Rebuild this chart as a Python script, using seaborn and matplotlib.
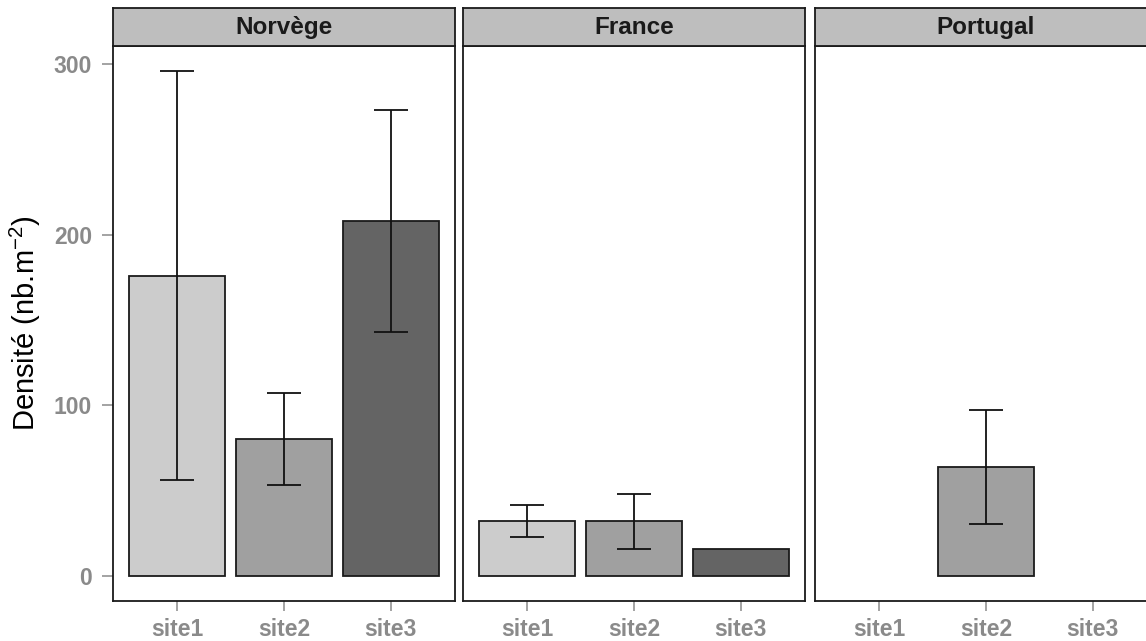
import numpy as np
import pandas as pd
import matplotlib
matplotlib.use("Agg")
import matplotlib.pyplot as plt
import seaborn as sns

# Mean density per site and country, with standard errors
countries = ["Norvège", "France", "Portugal"]
sites = ["site1", "site2", "site3"]
density_norvege = [176, 80, 208]
density_france = [32, 32, 15.5]
density_portugal = [np.nan, 64, np.nan]
se_norvege = [120, 27, 65]
se_france = [9.5, 16, np.nan]
se_portugal = [np.nan, 33.5, np.nan]
y_ticks = [0, 100, 200, 300]

fill_colors = {"site1": "#CCCCCC", "site2": "#A0A0A0", "site3": "#646464"}

df = pd.DataFrame({
    "pays": np.repeat(countries, len(sites)),
    "site": sites * len(countries),
    "densite": density_norvege + density_france + density_portugal,
    "se": se_norvege + se_france + se_portugal,
})

sns.set_theme(style="white")
plt.rcParams["font.family"] = ["Liberation Sans", "DejaVu Sans"]
plt.rcParams["mathtext.fontset"] = "custom"
plt.rcParams["mathtext.rm"] = "Liberation Sans"
plt.rcParams["mathtext.it"] = "Liberation Sans:italic"

W, H = 1146, 641
fig = plt.figure(figsize=(W / 100, H / 100), dpi=100)

panel_left = [113, 463, 815]
panel_w = 342
panel_top, panel_bottom = 46, 601
strip_top = 8

tick_grey = "#8A8A8A"
ymin, ymax = -14.8, 310.8

for i, pays in enumerate(countries):
    x0 = panel_left[i]
    ax = fig.add_axes([x0 / W, 1 - panel_bottom / H, panel_w / W,
                       (panel_bottom - panel_top) / H])
    sub = df[df["pays"] == pays]
    sns.barplot(data=sub, x="site", y="densite", hue="site", order=sites,
                hue_order=sites, palette=fill_colors, width=0.9,
                edgecolor="#1A1A1A", linewidth=1.3, errorbar=None,
                legend=False, ax=ax)
    xpos = np.arange(len(sites))
    ax.errorbar(xpos, sub["densite"].values, yerr=sub["se"].values,
                fmt="none", ecolor="#111111", elinewidth=1.3,
                capsize=12.5, capthick=1.3)
    ax.set_xlim(-0.6, 2.6)
    ax.set_ylim(ymin, ymax)
    ax.set_xlabel("")
    ax.set_ylabel("")
    ax.set_yticks(y_ticks)
    for sp in ax.spines.values():
        sp.set_visible(True)
        sp.set_color("#1A1A1A")
        sp.set_linewidth(1.3)
    ax.tick_params(axis="x", bottom=True, length=7.5, width=1.1,
                   color=tick_grey, labelcolor=tick_grey, labelsize=16.5,
                   pad=4.5)
    for lab in ax.get_xticklabels():
        lab.set_fontweight("bold")
    if i == 0:
        ax.tick_params(axis="y", left=True, length=8, width=1.1,
                       color=tick_grey, labelcolor=tick_grey,
                       labelsize=16.5, pad=7)
        for lab in ax.get_yticklabels():
            lab.set_fontweight("bold")
        ax.set_ylabel("Densité (nb.m$^{-2}$)", fontsize=21,
                      color="black", labelpad=8)
    else:
        ax.tick_params(axis="y", left=False, labelleft=False)

    # facet strip
    sax = fig.add_axes([x0 / W, 1 - panel_top / H, panel_w / W,
                        (panel_top - strip_top) / H])
    sax.set_facecolor("#BEBEBE")
    sax.set_xticks([])
    sax.set_yticks([])
    for sp in sax.spines.values():
        sp.set_visible(True)
        sp.set_color("#1A1A1A")
        sp.set_linewidth(1.3)
    sax.text(0.5, 0.48, pays, transform=sax.transAxes, ha="center",
             va="center", fontsize=17.5, fontweight="bold", color="#1A1A1A")

fig.savefig("out.png", dpi=100)
